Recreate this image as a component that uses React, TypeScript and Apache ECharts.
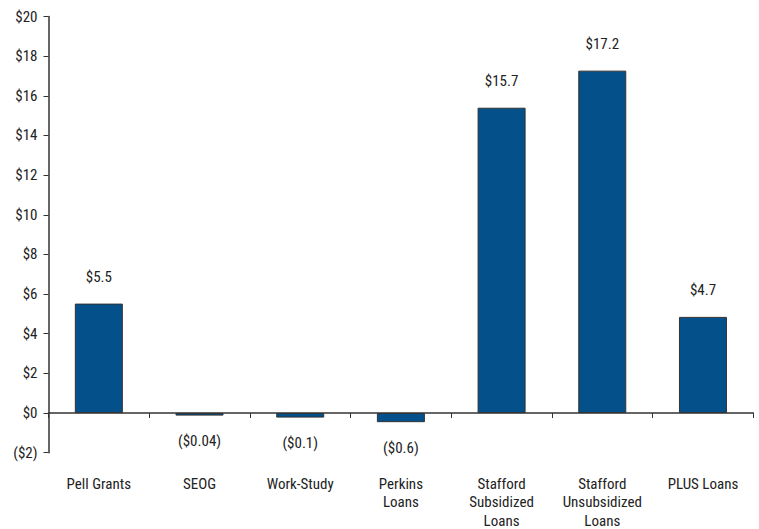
import React, { useEffect, useRef } from "react";
import * as echarts from "echarts";

const categories = [
  "Pell Grants",
  "SEOG",
  "Work-Study",
  "Perkins\nLoans",
  "Stafford\nSubsidized\nLoans",
  "Stafford\nUnsubsidized\nLoans",
  "PLUS Loans",
];
const values = [5.52, -0.13, -0.23, -0.46, 15.4, 17.27, 4.85];
const valueLabels = ["$5.5", "($0.04)", "($0.1)", "($0.6)", "$15.7", "$17.2", "$4.7"];
const yTicks = { min: -2, max: 20, interval: 2 };

const FONT = "'Liberation Sans Narrow', 'Arial Narrow', 'Roboto Condensed', 'Liberation Sans', sans-serif";

export default function App() {
  const ref = useRef<HTMLDivElement>(null);
  useEffect(() => {
    if (!ref.current) return;
    const chart = echarts.init(ref.current, undefined, { renderer: "svg" });
    chart.setOption({
      animation: false,
      grid: {
        left: 48.5,
        right: 5.7,
        top: 16.5,
        bottom: 76.3,
        containLabel: false,
        outerBoundsMode: "none",
      },
      xAxis: {
        type: "category",
        data: categories,
        axisLine: { onZero: true, lineStyle: { color: "#333", width: 1.5 } },
        axisTick: { show: true, length: 5, inside: false, alignWithLabel: false, lineStyle: { color: "#333" } },
        axisLabel: {
          interval: 0,
          margin: 22,
          color: "#222",
          fontFamily: FONT,
          fontSize: 15,
          lineHeight: 18.5,
          verticalAlign: "top",
        },
      },
      yAxis: {
        type: "value",
        min: yTicks.min,
        max: yTicks.max,
        interval: yTicks.interval,
        splitLine: { show: false },
        axisLine: { show: true, lineStyle: { color: "#333", width: 1.5 } },
        axisTick: { show: true, length: 5, lineStyle: { color: "#333" } },
        axisLabel: {
          margin: 11,
          color: "#222",
          fontFamily: FONT,
          fontSize: 15,
          formatter: (v: number) => (v < 0 ? `($${-v})` : `$${v}`),
        },
      },
      series: [
        {
          type: "bar",
          barWidth: 48,
          data: values.map((v, i) => ({
            value: v,
            label: {
              show: true,
              position: v < 0 ? "bottom" : "top",
              distance: v < 0 ? 18 : 19,
              formatter: valueLabels[i],
            },
          })),
          itemStyle: { color: "#03508a", borderColor: "#333", borderWidth: 1 },
          label: { color: "#222", fontFamily: FONT, fontSize: 15 },
        },
      ],
    });
    return () => chart.dispose();
  }, []);
  return (
    <div
      ref={ref}
      style={{ position: "absolute", left: 0, top: 0, width: 759, height: 529, background: "#fff" }}
    />
  );
}
